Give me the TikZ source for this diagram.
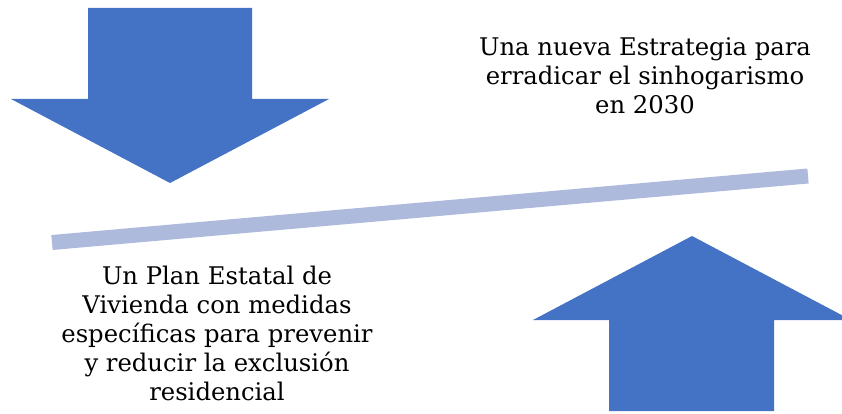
\documentclass[tikz,border=0pt]{standalone}
\usepackage{fontspec}
\setmainfont{DejaVu Serif}
\definecolor{arrowblue}{RGB}{68,114,196}
\definecolor{barlav}{RGB}{174,186,220}
\tikzset{
  bigarrow/.style={fill=arrowblue, draw=none},
  caption/.style={align=center, font=\fontsize{24.3}{29}\selectfont, inner sep=0pt, text=black},
}
\begin{document}
\begin{tikzpicture}[x=1pt,y=-1pt]
\useasboundingbox (0,0) rectangle (842,414);
% down arrow
\fill[bigarrow] (88,8) -- (252,8) -- (252,99) -- (329,99) -- (170,183) -- (11,99) -- (88,99) -- cycle;
% up arrow
\fill[bigarrow] (609,411) -- (774,411) -- (774,320) -- (851,320) -- (692,236) -- (533,320) -- (609,320) -- cycle;
% bar
\coordinate (barL) at (52,242.5);
\coordinate (barR) at (808,176);
\draw[barlav, line width=15pt] (barL) -- (barR);
% texts
\node[caption, anchor=north] (top) at (645,37) {Una nueva Estrategia para\\erradicar el sinhogarismo\\en 2030};
\node[caption, anchor=north] (bottom) at (217,266) {Un Plan Estatal de\\Vivienda con medidas\\específicas para prevenir\\y reducir la exclusión\\residencial};
\end{tikzpicture}
\end{document}
